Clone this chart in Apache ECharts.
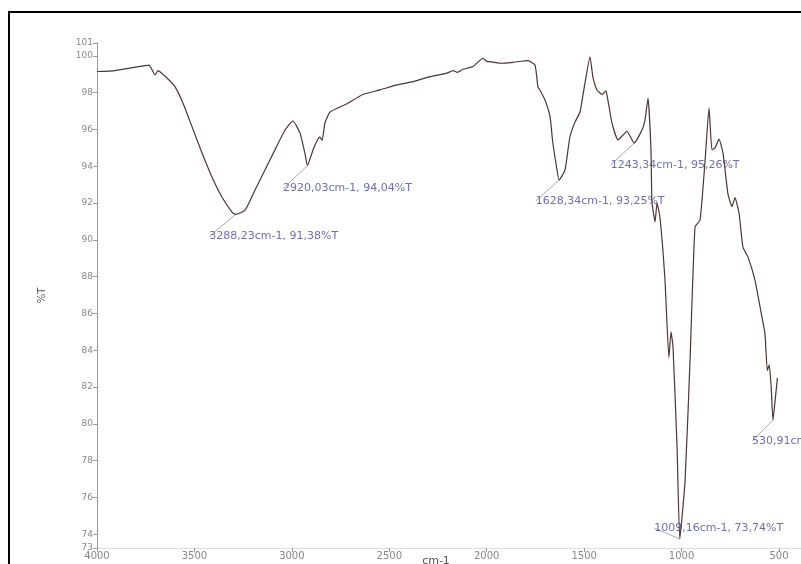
<!doctype html>
<html>
    <head>
        <meta charset="utf-8">
        <style>
            html, body { margin: 0; padding: 0; background: #fff; }
            #main { width: 801px; height: 564px; }
        </style>
    </head>
    <body>
        <div id="main"></div>
        <script src="https://cdn.jsdelivr.net/npm/echarts@6/dist/echarts.min.js"></script>
        <script>
            // FT-IR spectrum, values
            var wavenumber = [
                4000, 3908, 3754, 3733, 3702, 3687, 3641, 3600, 3559, 3512,
                3461, 3410, 3359, 3307, 3288.23, 3240, 3189, 3138, 3087, 3035,
                2994, 2958, 2933, 2920.03, 2891, 2866, 2856, 2845, 2830, 2804,
                2717, 2635, 2548, 2460, 2378, 2291, 2204, 2173, 2150, 2122,
                2070, 2019, 2000, 1983, 1932, 1865, 1788, 1752, 1737, 1727,
                1701, 1675, 1662, 1645, 1628.34, 1598, 1573, 1547, 1521, 1496,
                1470, 1455, 1434, 1408, 1388, 1378, 1357, 1326, 1280, 1243.34,
                1203, 1188, 1172, 1157, 1152, 1136, 1126, 1111, 1085, 1065,
                1054, 1044, 1023, 1009.16, 982, 957, 931, 905, 880, 859,
                844, 828, 808, 787, 762, 741, 726, 705, 685, 659,
                623, 597, 572, 560, 550, 540, 530.91, 518, 508
            ];
            var transmittance = [
                99.15, 99.2, 99.47, 99.5, 98.97, 99.2, 98.8, 98.33, 97.44, 96.14,
                94.72, 93.42, 92.33, 91.51, 91.38, 91.62, 92.71, 93.8, 94.89, 95.97,
                96.46, 95.8, 94.7, 94.04, 94.9, 95.48, 95.6, 95.4, 96.35, 96.95,
                97.4, 97.9, 98.15, 98.42, 98.6, 98.87, 99.06, 99.2, 99.1, 99.27,
                99.42, 99.87, 99.7, 99.69, 99.6, 99.65, 99.74, 99.5, 98.3, 98.15,
                97.6, 96.7, 95.4, 94.2, 93.25, 93.8, 95.6, 96.4, 96.95, 98.5,
                99.95, 98.86, 98.15, 97.9, 98.1, 97.6, 96.35, 95.43, 95.9, 95.26,
                95.97, 96.5, 97.7, 94.9, 92.1, 90.97, 92.0, 91.24, 87.8, 83.6,
                85.0, 84.2, 78.7, 73.74, 76.9, 83.3, 90.7, 91.08, 94.2, 97.17,
                94.9, 95.0, 95.48, 94.7, 92.5, 91.8, 92.3, 91.46, 89.6, 89.06,
                87.8, 86.35, 84.9, 82.9, 83.2, 82.0, 80.2, 81.45, 82.5
            ];

            // picked peaks
            var peakWavenumber = [3288.23, 2920.03, 1628.34, 1243.34, 1009.16, 530.91];
            var peakTransmittance = [91.38, 94.04, 93.25, 95.26, 73.74, 80.2];
            var peakLabels = [
                '3288,23cm-1, 91,38%T',
                '2920,03cm-1, 94,04%T',
                '1628,34cm-1, 93,25%T',
                '1243,34cm-1, 95,26%T',
                '1009,16cm-1, 73,74%T',
                '530,91cm-1, 80,20%T'
            ];

            var xTicks = [4000, 3500, 3000, 2500, 2000, 1500, 1000, 500];
            var yTicks = [73.25, 74, 76, 78, 80, 82, 84, 86, 88, 90, 92, 94, 96, 98, 100, 100.7];

            var spectrum = wavenumber.map(function (w, i) { return [w, transmittance[i]]; });
            var peaks = peakWavenumber.map(function (w, i) { return [w, peakTransmittance[i]]; });

            // label offsets from the peak point
            var labelOffsets = [[38, 22], [40, 23], [41, 21], [41, 22], [39, -11], [40, 21]];

            var chart = echarts.init(document.getElementById('main'));

            chart.setOption({
                animation: false,
                backgroundColor: '#fff',
                graphic: [{
                    type: 'rect',
                    shape: { x: 9, y: 12, width: 900, height: 700 },
                    style: { fill: 'none', stroke: '#000', lineWidth: 2 },
                    silent: true
                }],
                grid: {
                    left: 97,
                    right: 0,
                    top: 43,
                    bottom: 16,
                    containLabel: false,
                    outerBoundsMode: 'none'
                },
                xAxis: {
                    type: 'value',
                    inverse: true,
                    min: 387,
                    max: 4000,
                    name: 'cm-1',
                    nameLocation: 'middle',
                    nameGap: 8,
                    nameMoveOverlap: false,
                    nameTextStyle: { color: '#555', fontSize: 11, fontFamily: 'DejaVu Sans', padding: [0, 26, 0, 0] },
                    splitLine: { show: false },
                    axisLine: { lineStyle: { color: '#ddd', width: 1 } },
                    axisTick: { show: true, customValues: xTicks, length: 4, lineStyle: { color: '#999' } },
                    axisLabel: {
                        customValues: xTicks,
                        color: '#888',
                        fontSize: 10,
                        fontFamily: 'DejaVu Sans',
                        margin: 3,
                        formatter: function (v) { return String(v); }
                    }
                },
                yAxis: {
                    type: 'value',
                    min: 73.25,
                    max: 100.7,
                    name: '%T',
                    nameLocation: 'middle',
                    nameGap: 50,
                    nameTextStyle: { color: '#555', fontSize: 10, fontFamily: 'DejaVu Sans' },
                    splitLine: { show: false },
                    axisLine: { show: true, lineStyle: { color: '#999', width: 1 } },
                    axisTick: { show: true, customValues: yTicks, length: 4, lineStyle: { color: '#999' } },
                    axisLabel: {
                        customValues: yTicks,
                        color: '#888',
                        fontSize: 9,
                        fontFamily: 'DejaVu Sans',
                        margin: 4,
                        formatter: function (v) { return Math.round(v); }
                    }
                },
                series: [{
                    type: 'line',
                    data: spectrum,
                    showSymbol: false,
                    symbol: 'none',
                    smooth: 0.15,
                    lineStyle: { color: '#4e3434', width: 1.2 }
                }, {
                    type: 'scatter',
                    data: peaks,
                    symbolSize: 1,
                    itemStyle: { color: 'rgba(0,0,0,0)' },
                    silent: true,
                    label: {
                        show: true,
                        position: 'inside',
                        align: 'center',
                        verticalAlign: 'middle',
                        color: '#4a4a9c',
                        fontSize: 11,
                        fontFamily: 'DejaVu Sans',
                        formatter: function (p) { return peakLabels[p.dataIndex]; }
                    },
                    labelLine: {
                        show: true,
                        lineStyle: { color: '#aaa', width: 1 }
                    },
                    labelLayout: function (p) {
                        var o = labelOffsets[p.dataIndex];
                        return { dx: o[0], dy: o[1] };
                    }
                }]
            });

            window.onresize = chart.resize;
        </script>
    </body>
</html>
